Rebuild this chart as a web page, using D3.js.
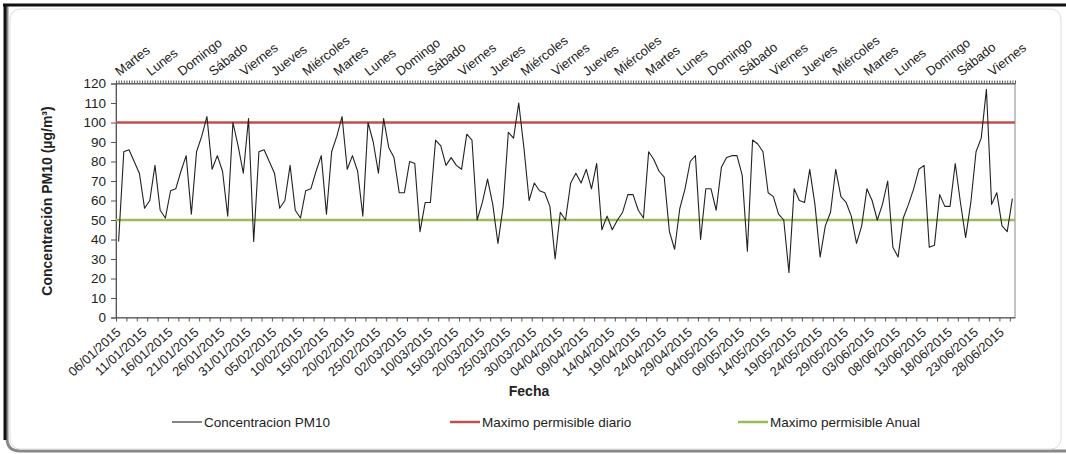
<!DOCTYPE html>
<html lang="es">
<head>
<meta charset="utf-8">
<title>Concentración PM10</title>
<script src="https://d3js.org/d3.v7.min.js"></script>
<style>
  body { margin: 0; background: #fff; }
  svg text { font-family: "Liberation Sans", Arial, sans-serif; fill: #222; }
  .axis path, .axis line { stroke: #555; }
  .axis text { font-size: 13.5px; }
</style>
</head>
<body>
<script>
// valores diarios de PM10 (ug/m3), uno por categoria del eje
var pm10 = [39,85,86,80,74,56,60,78,55,51,65,66,75,83,53,85,93,103,76,83,75,52,100,88,74,102,
  39,85,86,80,74,56,60,78,55,51,65,66,75,83,53,85,93,103,76,83,75,52,100,90,74,102,
  87,82,64,64,80,79,44,59,59,91,88,78,82,78,76,94,91,50,59,71,58,38,57,95,92,110,87,60,69,65,64,57,30,54,
  50,69,74,69,76,66,79,45,52,45,50,54,63,63,55,51,85,81,75,72,44,35,56,66,80,83,40,66,66,55,77,82,83,83,73,34,
  91,89,85,64,62,53,50,23,66,60,59,76,58,31,47,54,76,62,59,52,38,47,66,60,50,58,70,36,31,51,58,66,76,78,36,37,
  63,57,57,79,59,41,59,85,92,117,58,64,47,44,61];
var limiteDiario = 100;
var limiteAnual = 50;
// etiquetas visibles del eje inferior (una cada 5 categorias)
var fechas = ["06/01/2015","11/01/2015","16/01/2015","21/01/2015","26/01/2015","31/01/2015",
  "05/02/2015","10/02/2015","15/02/2015","20/02/2015","25/02/2015","02/03/2015","10/03/2015",
  "15/03/2015","20/03/2015","25/03/2015","30/03/2015","04/04/2015","09/04/2015","14/04/2015",
  "19/04/2015","24/04/2015","29/04/2015","04/05/2015","09/05/2015","14/05/2015","19/05/2015",
  "24/05/2015","29/05/2015","03/06/2015","08/06/2015","13/06/2015","18/06/2015","23/06/2015","28/06/2015"];
// etiquetas del eje superior (una cada 6 categorias)
var dias = ["Martes","Lunes","Domingo","Sábado","Viernes","Jueves","Miércoles","Martes","Lunes",
  "Domingo","Sábado","Viernes","Jueves","Miércoles","Viernes","Jueves","Miércoles","Martes","Lunes",
  "Domingo","Sábado","Viernes","Jueves","Miércoles","Martes","Lunes","Domingo","Sábado","Viernes"];
var yTicks = d3.range(0, 121, 10);

var w = 1066, h = 454;
var pLeft = 116, pRight = 1015, pTop = 83.5, pBottom = 317.5;
var n = pm10.length;

var x = d3.scaleLinear().domain([0, n]).range([pLeft, pRight]);
var y = d3.scaleLinear().domain([0, 120]).range([pBottom, pTop]);

var svg = d3.select('body').append('svg')
    .attr('width', w)
    .attr('height', h);

// marco
svg.append('path')
    .attr('d', 'M7,6 L7,438 Q7,451 20,451 L1066,451')
    .attr('fill', 'none')
    .attr('stroke', '#888')
    .attr('stroke-width', 3);
svg.append('path')
    .attr('d', 'M5,5 L5,440')
    .attr('stroke', '#111')
    .attr('stroke-width', 3);
svg.append('rect')
    .attr('x', 10).attr('y', 9)
    .attr('width', 1051).attr('height', 440)
    .attr('rx', 10)
    .attr('fill', '#fff')
    .attr('stroke', '#ddd');
svg.append('line')
    .attr('x1', 3).attr('x2', 1066).attr('y1', 5).attr('y2', 5)
    .attr('stroke', '#111').attr('stroke-width', 3);

// area de trazado
svg.append('rect')
    .attr('x', pLeft).attr('y', pTop)
    .attr('width', pRight - pLeft).attr('height', pBottom - pTop)
    .attr('fill', '#fff')
    .attr('stroke', '#888');

// ejes
svg.append('g')
    .attr('class', 'y axis')
    .attr('transform', 'translate(' + pLeft + ',0)')
    .call(d3.axisLeft(y).tickValues(yTicks).tickSize(5).tickPadding(5));

svg.append('g')
    .attr('class', 'x axis')
    .attr('transform', 'translate(0,' + pBottom + ')')
    .call(d3.axisBottom(x).tickValues(d3.range(0, n + 1, 2)).tickSize(4).tickSizeOuter(0).tickFormat(''));

svg.append('g')
    .attr('class', 'x2 axis')
    .attr('transform', 'translate(0,' + pTop + ')')
    .call(d3.axisTop(x).tickValues(d3.range(0, n + 0.5, 0.5)).tickSize(3).tickSizeOuter(0).tickFormat(''));

svg.selectAll('.fecha')
    .data(fechas)
  .enter().append('text')
    .attr('class', 'fecha')
    .attr('transform', function(d, i) {
      return 'translate(' + [x(i * 5 + 0.5) + 3, pBottom + 16] + ') rotate(-42)';
    })
    .attr('text-anchor', 'end')
    .attr('font-size', 13)
    .text(function(d) { return d; });

svg.selectAll('.dia')
    .data(dias)
  .enter().append('text')
    .attr('class', 'dia')
    .attr('transform', function(d, i) {
      return 'translate(' + [x(i * 6 + 0.5) + 1, pTop - 7] + ') rotate(-38)';
    })
    .attr('text-anchor', 'start')
    .attr('font-size', 13)
    .text(function(d) { return d; });

// titulos
svg.append('text')
    .attr('transform', 'translate(52,201) rotate(-90)')
    .attr('text-anchor', 'middle')
    .attr('font-size', 14)
    .attr('font-weight', 'bold')
    .text('Concentración PM10 (µg/m³)');
svg.append('text')
    .attr('x', 529).attr('y', 396)
    .attr('text-anchor', 'middle')
    .attr('font-size', 14)
    .attr('font-weight', 'bold')
    .text('Fecha');

// limites
svg.append('line')
    .attr('x1', pLeft).attr('x2', pRight)
    .attr('y1', y(limiteDiario)).attr('y2', y(limiteDiario))
    .attr('stroke', '#c0504d').attr('stroke-width', 2.5);
svg.append('line')
    .attr('x1', pLeft).attr('x2', pRight)
    .attr('y1', y(limiteAnual)).attr('y2', y(limiteAnual))
    .attr('stroke', '#9bbb59').attr('stroke-width', 2.5);

// serie
var line = d3.line()
    .x(function(d, i) { return x(i + 0.5); })
    .y(function(d) { return y(d); });
svg.append('path')
    .datum(pm10)
    .attr('d', line)
    .attr('fill', 'none')
    .attr('stroke', '#222')
    .attr('stroke-width', 1.1)
    .attr('stroke-linejoin', 'round');

// leyenda
var leyenda = [
  {name: 'Concentracion PM10', color: '#222', width: 1.1, x: 172},
  {name: 'Maximo permisible diario', color: '#c0504d', width: 2.5, x: 450},
  {name: 'Maximo permisible Anual', color: '#9bbb59', width: 2.5, x: 738}
];
var lg = svg.selectAll('.leyenda')
    .data(leyenda)
  .enter().append('g')
    .attr('class', 'leyenda')
    .attr('transform', function(d) { return 'translate(' + [d.x, 422] + ')'; });
lg.append('line')
    .attr('x1', 0).attr('x2', 30)
    .attr('stroke', function(d) { return d.color; })
    .attr('stroke-width', function(d) { return d.width; });
lg.append('text')
    .attr('x', 32).attr('dy', '0.35em')
    .attr('font-size', 13.5)
    .text(function(d) { return d.name; });
</script>
</body>
</html>
